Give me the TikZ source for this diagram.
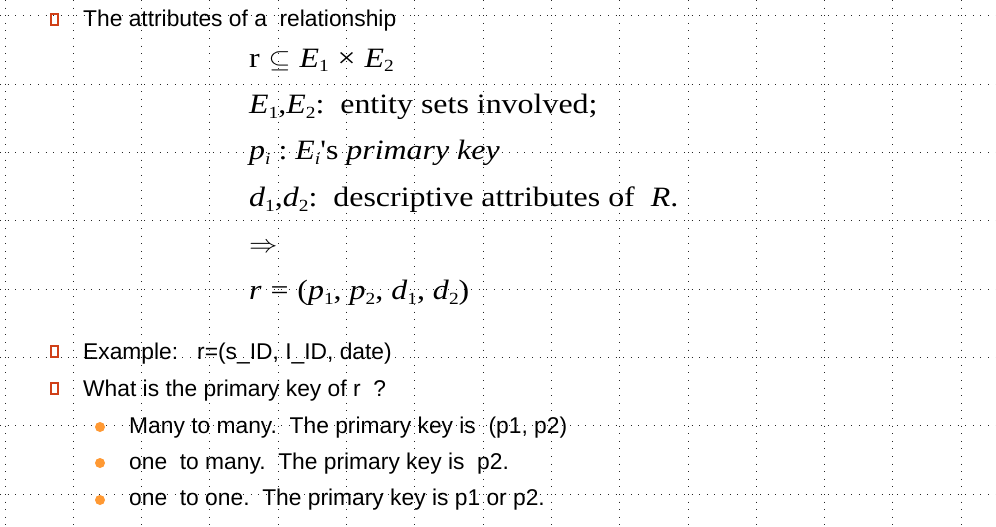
\documentclass[tikz,border=0pt]{standalone}
\usepackage{fontspec}
\usepackage{graphicx}
\setmainfont{Liberation Serif}
\newfontfamily\arialfont{Liberation Sans}
\newcommand{\wideeq}[1]{\scalebox{1.14}[1]{#1}}
\newcommand{\idx}[1]{\raisebox{-5pt}{\fontsize{17}{17}\selectfont #1}}
\definecolor{boxred}{RGB}{208,64,24}
\definecolor{dotorange}{RGB}{255,153,51}

\begin{document}
\begin{tikzpicture}[x=1pt, y=-1pt,
	gridline/.style={line width=1pt, dash pattern=on 1pt off 6.6pt, black!85},
	linetext/.style={anchor=base west, inner sep=0pt, font=\arialfont\fontsize{22.8}{27}\selectfont},
	eqtext/.style={anchor=base west, inner sep=0pt, font=\fontsize{28}{32}\selectfont},
	bulletbox/.style={draw=boxred, line width=2pt, minimum width=7pt, minimum height=11pt, inner sep=0pt},
	bulletdot/.style={circle, fill=dotorange, minimum size=10pt, inner sep=0pt}]
	\fill[white] (0,0) rectangle (996,527);
	\useasboundingbox (0,0) rectangle (996,527);
	\foreach \k in {0,...,14}
		\draw[gridline] ({5+68.3*\k},0) -- ({5+68.3*\k},527);
	\foreach \k in {0,...,7}
		\draw[gridline] (0,{16+68.3*\k}) -- (996,{16+68.3*\k});

	\node [bulletbox] (b1) at (54.5,19.5) {};
	\node [bulletbox] (b2) at (54.5,351.5) {};
	\node [bulletbox] (b3) at (54.5,388.5) {};
	\node [bulletdot] (d1) at (100,427) {};
	\node [bulletdot] (d2) at (100,463) {};
	\node [bulletdot] (d3) at (100,500) {};

	\node [linetext] (attr) at (83,27) {The attributes of a\ \ relationship};
	\node [eqtext] (subset) at (249,67) {\wideeq{r\;$\subseteq$\;\textit{E}\idx{1}\;×\;\textit{E}\idx{2}}};
	\node [eqtext] (entity) at (249,113.4) {\wideeq{\textit{E}\idx{1},\textit{E}\idx{2}:\ \ entity sets involved;}};
	\node [eqtext] (pkey) at (249,159.8) {\wideeq{\textit{p}\idx{\itshape i}\ :\ \textit{E}\idx{\itshape i}\textquotesingle s \textit{primary key}}};
	\node [eqtext] (descr) at (249,206.2) {\wideeq{\textit{d}\idx{1},\textit{d}\idx{2}:\ \ descriptive attributes of\ \ \textit{R}.}};
	\node [eqtext] (implies) at (249,252.6) {\wideeq{$\Rightarrow$}};
	\node [eqtext] (rtuple) at (249,299) {\wideeq{\textit{r}\;=\;(\textit{p}\idx{1}, \textit{p}\idx{2}, \textit{d}\idx{1}, \textit{d}\idx{2})}};

	\node [linetext] (example) at (83,359) {Example:\ \ \ r=(s\_ID, I\_ID, date)};
	\node [linetext] (question) at (83,396) {What is the primary key of r\ \ ?};
	\node [linetext] (many) at (129,433) {Many to many.\ \ The primary key is\ \ (p1, p2)};
	\node [linetext] (onemany) at (129,469) {one\ \ to many.\ \ The primary key is\ \ p2.};
	\node [linetext] (oneone) at (129,505) {one\ \ to one.\ \ The primary key is p1 or p2.};
\end{tikzpicture}
\end{document}
